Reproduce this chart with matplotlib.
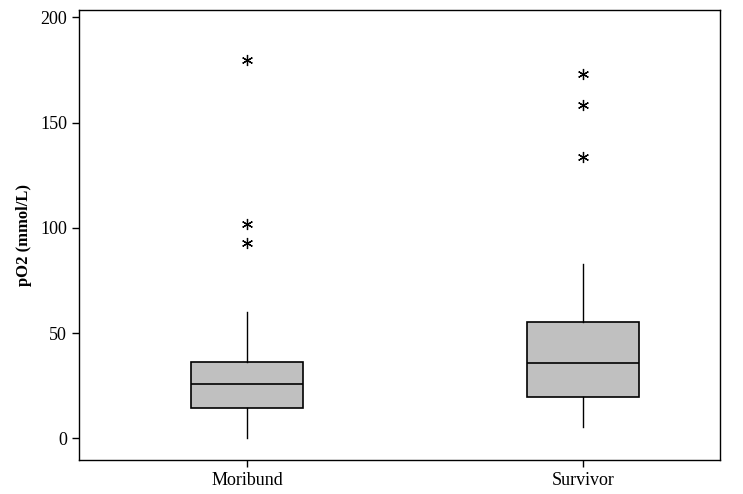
import matplotlib.pyplot as plt

groups = ["Moribund", "Survivor"]
q1 = [14.5, 19.6]
med = [25.8, 35.8]
q3 = [36.4, 55.1]
whislo = [0.0, 5.5]
whishi = [59.9, 82.7]
outliers = [[179.7, 101.7, 92.9], [173.0, 158.3, 133.8]]

plt.rcParams['font.family'] = ['Liberation Serif', 'DejaVu Serif']

fig = plt.figure(figsize=(7.43, 4.94), dpi=100)
ax = fig.add_axes([0.1063, 0.0688, 0.8627, 0.911])

stats = []
for i, g in enumerate(groups):
    stats.append(dict(label=g, q1=q1[i], med=med[i], q3=q3[i],
                      whislo=whislo[i], whishi=whishi[i], fliers=outliers[i]))

ax.bxp(stats, positions=[1, 2], widths=0.335, patch_artist=True,
       showcaps=False,
       boxprops=dict(facecolor='#c0c0c0', edgecolor='black', linewidth=1.2),
       medianprops=dict(color='black', linewidth=1.2),
       whiskerprops=dict(color='black', linewidth=1.0),
       flierprops=dict(marker=(6, 2, 0), markersize=8, markeredgecolor='black',
                       markerfacecolor='black', markeredgewidth=0.9, linestyle='none'))

ax.set_xlim(0.5, 2.407)
ax.set_ylim(-10.3, 203.5)
ax.set_yticks([0, 50, 100, 150, 200])
ax.set_ylabel('pO2 (mmol/L)', fontweight='bold', fontsize=12, labelpad=6)
ax.tick_params(direction='out', length=5, width=1, labelsize=13)
for s in ax.spines.values():
    s.set_linewidth(1.0)

fig.savefig('out.png', dpi=100)
